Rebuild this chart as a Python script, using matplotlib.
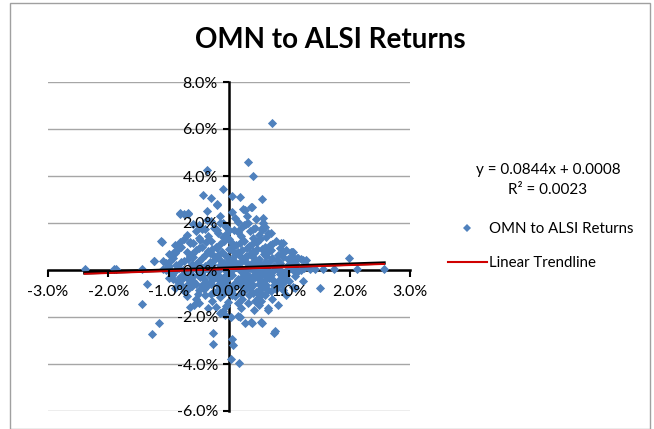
import matplotlib.pyplot as plt
from matplotlib.lines import Line2D
from matplotlib.patches import Rectangle
from matplotlib.ticker import FuncFormatter

plt.rcParams['font.family'] = ['Lato', 'DejaVu Sans']

# Daily returns in percent (x = ALSI, y = OMN)
core_x = [
    -0.5, -0.3, -0.05, 0.1, 0.25, 0.45, -0.15, 0.05, 0.3, -0.4, 0.6,
    -0.7, -0.55, -0.35, -0.2, -0.05, 0.08, 0.2, 0.35, 0.5, 0.62, 0.15, -0.1, 0.4,
    -0.9, -0.75, -0.6, -0.45, -0.3, -0.15, 0.0, 0.12, 0.25, 0.38, 0.52, 0.68, 0.78, -0.5, 0.3, -0.2, 0.6, 0.05,
    -1.0, -0.85, -0.7, -0.55, -0.4, -0.28, -0.12, 0.0, 0.1, 0.22, 0.35, 0.47, 0.58, 0.7, 0.82, 0.95, -0.65, -0.05, 0.28, 0.62, -0.35, 0.4,
    -1.05, -0.92, -0.8, -0.68, -0.55, -0.45, -0.32, -0.2, -0.08, 0.05, 0.15, 0.27, 0.38, 0.5, 0.62, 0.72, 0.85, 0.98, 1.1, -0.6, 0.2, 0.9, -0.15, 0.45,
    -1.1, -0.95, -0.83, -0.7, -0.58, -0.47, -0.35, -0.22, -0.1, 0.02, 0.12, 0.24, 0.35, 0.46, 0.57, 0.68, 0.8, 0.92, 1.02, 1.15, 1.25, -0.4, 0.3, 0.75, -0.75,
    -1.0, -0.85, -0.72, -0.6, -0.48, -0.38, -0.25, -0.12, 0.0, 0.1, 0.2, 0.32, 0.43, 0.55, 0.66, 0.78, 0.9, 1.0, -0.55, 0.25, 0.7, -0.18,
    -0.9, -0.75, -0.62, -0.5, -0.38, -0.25, -0.12, 0.0, 0.12, 0.22, 0.35, 0.45, 0.58, 0.7, 0.82, 0.4, -0.05,
    -0.7, -0.55, -0.4, -0.28, -0.15, -0.02, 0.1, 0.22, 0.33, 0.48, 0.6, 0.72, -0.5, 0.15,
    -0.35, -0.05, 0.2, 0.5, -0.1,
    -0.3, 0.1, 0.18, 0.4, 0.55, -0.05, 0.08, 0.3, -0.15, 0.6, 0.25, -0.45, 0.5, 0.15, -0.25, 0.0, 0.35, 0.65, -0.6, 0.85,
]
core_y = [
    1.9, 2.1, 1.85, 2.2, 1.9, 2.15, 2.3, 2.45, 2.3, 1.75, 1.85,
    1.5, 1.65, 1.45, 1.7, 1.55, 1.7, 1.45, 1.65, 1.5, 1.4, 1.6, 1.4, 1.35,
    1.05, 1.3, 1.15, 1.0, 1.25, 1.1, 1.3, 1.05, 1.25, 1.1, 1.3, 1.05, 1.25, 1.35, 0.95, 0.95, 1.0, 1.15,
    0.7, 0.9, 0.75, 0.85, 0.65, 0.9, 0.75, 0.9, 0.65, 0.85, 0.7, 0.9, 0.7, 0.85, 0.65, 0.85, 0.6, 0.6, 0.6, 0.6, 0.8, 0.8,
    0.3, 0.5, 0.35, 0.45, 0.25, 0.5, 0.35, 0.55, 0.3, 0.45, 0.25, 0.5, 0.3, 0.45, 0.25, 0.5, 0.3, 0.45, 0.3, 0.55, 0.55, 0.55, 0.2, 0.2,
    0.05, -0.1, 0.1, -0.05, 0.12, -0.12, 0.05, -0.08, 0.1, -0.05, 0.12, -0.1, 0.08, -0.06, 0.1, -0.1, 0.06, -0.08, 0.1, -0.05, 0.08, 0.18, -0.18, 0.18, -0.18,
    -0.35, -0.5, -0.3, -0.45, -0.28, -0.55, -0.35, -0.5, -0.3, -0.55, -0.32, -0.48, -0.28, -0.5, -0.35, -0.55, -0.3, -0.45, -0.6, -0.6, -0.22, -0.22,
    -0.75, -0.9, -0.7, -0.85, -0.72, -0.95, -0.78, -0.9, -0.7, -0.88, -0.75, -0.95, -0.72, -0.9, -0.7, -0.65, -0.65,
    -1.1, -1.25, -1.05, -1.3, -1.15, -1.35, -1.1, -1.25, -1.05, -1.2, -1.05, -1.25, -1.4, -1.4,
    -1.6, -1.55, -1.6, -1.5, -1.75,
    0.15, 0.35, 0.0, 0.55, -0.15, -0.2, 0.78, 0.3, 0.42, 0.35, -0.3, -0.2, 0.05, -0.45, 0.6, 0.2, -0.6, 0.15, -0.25, -0.15,
]
# second pass over the dense centre of the cloud
fill_x = [
    -0.65, -0.38, -0.08, 0.18, 0.45, 0.72,
    -0.8, -0.5, -0.22, 0.05, 0.33, 0.55, 0.85,
    -0.9, -0.62, -0.32, -0.18, 0.15, 0.42, 0.65, 0.9, 1.05,
    -0.98, -0.75, -0.5, -0.25, 0.0, 0.22, 0.45, 0.68, 0.8, 1.05, 1.2,
    -1.0, -0.88, -0.62, -0.5, -0.28, -0.05, 0.08, 0.4, 0.52, 0.62, 0.85, 0.97, 1.1, 1.3,
    -1.05, -0.9, -0.77, -0.64, -0.52, -0.42, -0.28, -0.16, -0.04, 0.07, 0.18, 0.29, 0.41, 0.52, 0.63, 0.74, 0.86, 0.97, 1.08, 1.2,
    -0.95, -0.82, -0.52, -0.32, -0.08, 0.05, 0.38, 0.48, 0.62, 0.95, 1.1,
    -0.92, -0.78, -0.65, -0.42, -0.3, -0.18, -0.05, 0.15, 0.27, 0.38, 0.5, 0.6, 0.72, 0.85, 0.95,
    -0.8, -0.68, -0.45, -0.3, -0.18, 0.05, 0.18, 0.3, 0.5, 0.62, 0.75, 0.88,
    -0.68, -0.42, -0.18, 0.06, 0.28, 0.52, 0.65, 0.78,
    -0.52, -0.3, -0.08, 0.05, 0.2, 0.4, 0.55,
    -0.45, -0.25, 0.0, 0.2, 0.4, 0.55, -0.6, -0.1, 0.28,
]
fill_y = [
    1.2, 1.18, 1.22, 1.15, 1.18, 1.12,
    0.98, 0.95, 1.0, 0.97, 1.02, 0.9, 0.95,
    0.72, 0.7, 0.72, 0.62, 0.75, 0.72, 0.78, 0.72, 0.6,
    0.4, 0.4, 0.38, 0.42, 0.38, 0.4, 0.36, 0.4, 0.42, 0.38, 0.45,
    0.15, 0.2, 0.25, 0.22, 0.25, 0.25, 0.22, 0.15, 0.25, 0.28, 0.2, 0.2, 0.18, 0.15,
    -0.02, -0.05, 0.0, -0.03, -0.06, 0.02, -0.04, 0.01, -0.06, 0.03, -0.02, 0.0, -0.05, 0.02, -0.03, 0.01, -0.06, 0.02, -0.04, 0.0,
    -0.22, -0.28, -0.2, -0.25, -0.3, -0.2, -0.28, -0.18, -0.25, -0.2, -0.25,
    -0.4, -0.38, -0.42, -0.4, -0.45, -0.38, -0.42, -0.4, -0.44, -0.38, -0.4, -0.42, -0.4, -0.38, -0.42,
    -0.62, -0.6, -0.65, -0.6, -0.62, -0.66, -0.6, -0.63, -0.6, -0.62, -0.65, -0.6,
    -0.82, -0.8, -0.85, -0.8, -0.82, -0.8, -0.85, -0.8,
    -1.0, -1.02, -0.98, -1.05, -1.0, -0.98, -1.02,
    1.75, 1.78, 1.72, 1.8, 1.75, 1.72, 1.95, 1.98, 1.95,
]
outer_x = [
    0.71, 0.31, 0.40, -0.37, -0.10, -0.43, -0.30, 0.05, 0.18, 0.55, -0.20, 0.23, 0.38, -0.37, -0.81, -0.68, 0.56,
    -1.44, -1.16, -1.28, -0.27, -0.27, 0.05, 0.07, 0.03, 0.17, 0.27, 0.38, 0.55, 0.75, 0.76, 0.15, 0.03, -0.15, -0.07,
    -0.21, 0.41, 0.65, -0.65, -0.58, 0.32, 0.43, 0.53,
    -2.39, -1.91, -1.88, -1.44, -1.24, -1.36,
    1.99, 2.12, 2.57, 1.74, 1.56, 1.43, 1.34, 1.51, 1.06, 1.06, 1.13, 0.90,
    -1.13, -1.24, -1.09, -0.81, -0.81, -0.68, -0.93, 0.90, 1.04, 1.23, 0.56, 0.65, 0.46,
    -0.20, -0.75, -1.11, -0.86, -0.65, -0.48, -0.37, -0.15, -0.18,
    0.27, 0.36, 0.15, 0.32, 0.56, 0.55, 0.70, 0.86, 1.03, 1.14, 1.28, 0.43,
    0.18, 0.36, 0.53, 0.65, 0.81, 0.95, 1.09, 1.23,
]
outer_y = [
    6.26, 4.60, 4.00, 4.26, 3.45, 3.19, 3.06, 3.15, 3.10, 3.02, 2.77, 2.60, 2.68, 2.51, 2.43, 2.43, 2.20,
    -1.45, -2.26, -2.72, -2.68, -3.15, -2.94, -3.19, -3.79, -3.96, -2.26, -2.25, -2.25, -2.68, -2.60, -1.96, -2.00, -1.83, -1.90,
    -1.57, -1.70, -1.62, -1.57, -1.50, -1.40, -1.30, -1.30,
    0.04, 0.04, 0.04, 0.04, 0.38, -0.60,
    0.50, 0.04, 0.04, 0.04, 0.04, 0.04, 0.04, -0.77, -0.72, 0.77, 0.50, -0.85,
    1.23, 0.38, 0.38, 1.19, 2.38, 2.40, 0.72, 1.15, 0.77, 0.43, 2.00, 1.57, 1.19,
    2.81, 2.38, 1.19, 0.85, 1.15, 1.28, 2.13, 2.00, 1.57,
    2.55, 2.68, 2.04, 2.00, 2.00, 1.77, 1.57, 1.15, 0.77, 0.50, 0.43, 1.79,
    -2.00, -2.21, -2.21, -1.70, -1.49, -1.06, -0.77, -0.47,
]

x_vals = core_x + fill_x + outer_x
y_vals = core_y + fill_y + outer_y

slope = 0.0844
intercept = 0.08  # 0.0008 expressed in percent
trend_x = [min(x_vals), max(x_vals)]
trend_y = [slope * v + intercept for v in trend_x]

y_ticks = [-6, -4, -2, 0, 2, 4, 6, 8]
x_ticks = [-3, -2, -1, 0, 1, 2, 3]

blue = '#4F81BD'
fig = plt.figure(figsize=(6.54, 4.29), dpi=100)
ax = fig.add_axes([48 / 654, 1 - 411 / 429, 362 / 654, 329 / 429])

# gridlines drawn by hand so the tick labels can sit above the markers
for t in y_ticks:
    ax.axhline(t, color='#A6A6A6', lw=1, zorder=1)

ax.scatter(x_vals, y_vals, marker='D', s=22, color=blue, linewidths=0, zorder=3)
ax.plot(trend_x, trend_y, color='black', lw=2.4, zorder=4)
ax.plot(trend_x, [v - 0.04 for v in trend_y], color='#D00000', lw=1.4, zorder=5)

ax.set_xlim(-3, 3)
ax.set_ylim(-6, 8)
ax.set_xticks(x_ticks)
ax.set_yticks(y_ticks)

for side in ['top', 'right']:
    ax.spines[side].set_visible(False)
for side in ['left', 'bottom']:
    ax.spines[side].set_position(('data', 0))
    ax.spines[side].set_linewidth(1.8)
    ax.spines[side].set_zorder(2)
ax.xaxis.set_zorder(8)
ax.yaxis.set_zorder(8)

fmt = FuncFormatter(lambda v, p: f'{v:.1f}%')
ax.xaxis.set_major_formatter(fmt)
ax.yaxis.set_major_formatter(fmt)
ax.tick_params(axis='x', direction='out', length=5, width=1.5, labelsize=11.5, pad=6)
ax.tick_params(axis='y', direction='out', length=4, width=1.5, labelsize=11.5, pad=4)

fig.text(0.505, 1 - 40 / 429, 'OMN to ALSI Returns', ha='center', va='center',
         fontsize=20, fontweight='bold')

# trendline equation and legend
fig.text(548 / 654, 1 - 170 / 429, 'y = 0.0844x + 0.0008', ha='center', va='center', fontsize=11)
fig.text(548 / 654, 1 - 190 / 429, 'R² = 0.0023', ha='center', va='center', fontsize=11)

handles = [
    Line2D([], [], marker='D', ls='none', color=blue, markersize=4, markeredgewidth=0),
    Line2D([], [], color='#D00000', lw=1.5),
]
fig.legend(handles, ['OMN to ALSI Returns', 'Linear Trendline'], loc='center left',
           bbox_to_anchor=(434 / 654, 1 - 246 / 429), frameon=False, fontsize=10.8,
           handlelength=2.6, handletextpad=0.15, labelspacing=1.35)

fig.patches.append(Rectangle((10 / 654, 0), 640 / 654, 1 - 3 / 429, transform=fig.transFigure,
                             fill=False, edgecolor='#A0A0A0', lw=1))

fig.savefig('out.png', dpi=100)
